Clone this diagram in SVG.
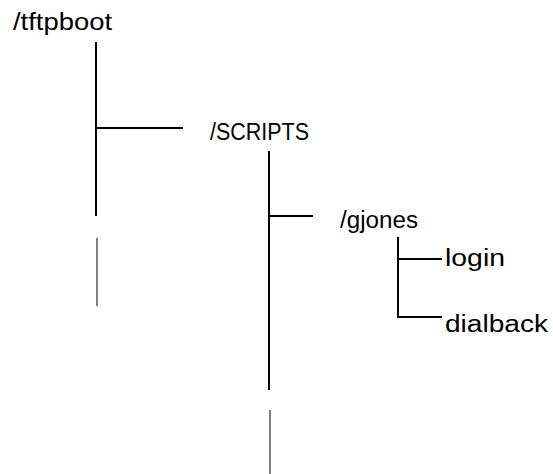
<svg xmlns="http://www.w3.org/2000/svg" width="553" height="474" viewBox="0 0 553 474">
  <style>
    .dir { font-family: "Liberation Sans", Arial, sans-serif; font-size: 23px; fill: #000; }
    .file { font-family: "Liberation Sans", Arial, sans-serif; font-size: 23px; fill: #000; }
    .branch { stroke: #000; stroke-width: 2; fill: none; }
    .cont { stroke: #808080; stroke-width: 2; fill: none; }
  </style>
  <rect width="553" height="474" fill="#fff"/>

  <g id="connectors">
    <!-- /tftpboot trunk and branch to /SCRIPTS -->
    <line class="branch" x1="96" y1="42" x2="96" y2="216"/>
    <line class="branch" x1="96" y1="128" x2="183" y2="128"/>
    <line class="cont" x1="97" y1="238" x2="97" y2="306"/>
    <!-- /SCRIPTS trunk and branch to /gjones -->
    <line class="branch" x1="269" y1="151" x2="269" y2="390"/>
    <line class="branch" x1="269" y1="216" x2="313" y2="216"/>
    <line class="cont" x1="270" y1="410" x2="270" y2="474"/>
    <!-- /gjones files -->
    <path class="branch" d="M398 237 V317 H442 M398 259 H442"/>
  </g>

  <g id="tftpboot"><text class="dir" x="13" y="30" textLength="99" lengthAdjust="spacingAndGlyphs">/tftpboot</text></g>
  <g id="scripts"><text class="dir" x="210" y="140" textLength="99" lengthAdjust="spacingAndGlyphs">/SCRIPTS</text></g>
  <g id="gjones"><text class="dir" x="340" y="228" textLength="78" lengthAdjust="spacingAndGlyphs">/gjones</text></g>
  <g id="login"><text class="file" x="445" y="266" textLength="60" lengthAdjust="spacingAndGlyphs">login</text></g>
  <g id="dialback"><text class="file" x="445" y="332" textLength="103" lengthAdjust="spacingAndGlyphs">dialback</text></g>
</svg>
